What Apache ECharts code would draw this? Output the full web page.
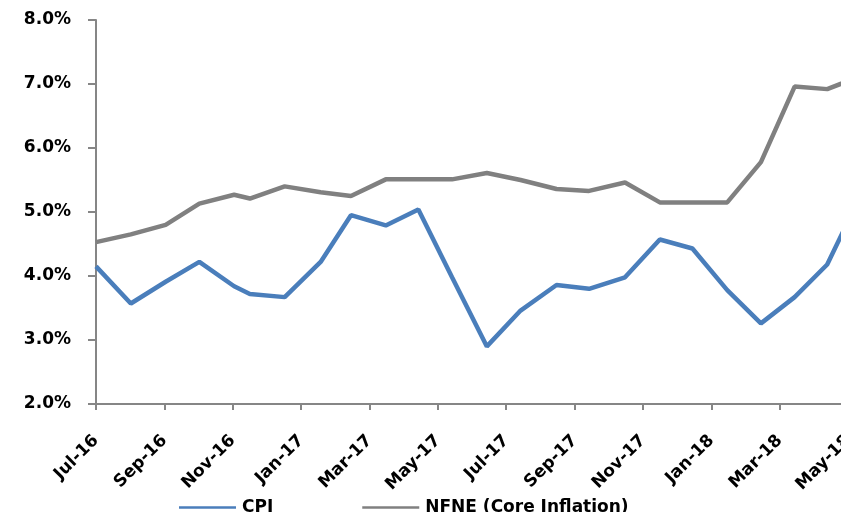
<!DOCTYPE html>
<html>
<head>
<meta charset="utf-8">
<script src="https://cdn.jsdelivr.net/npm/echarts@6/dist/echarts.min.js"></script>
<style>
  html, body { margin: 0; padding: 0; background: #fff; }
  #chart { width: 841px; height: 512px; }
</style>
</head>
<body>
<div id="chart"></div>
<script>
// ---- data ----
const startDate = '2016-07-01';
const pointDates = ['2016-07-01','2016-08-01','2016-09-01','2016-10-01','2016-11-01','2016-11-15',
  '2016-12-16','2017-01-17','2017-02-13','2017-03-16','2017-04-14','2017-05-14','2017-06-14',
  '2017-07-14','2017-08-15','2017-09-13','2017-10-15','2017-11-15','2017-12-14','2018-01-14',
  '2018-02-13','2018-03-15','2018-04-13','2018-05-11'];
const cpi  = [4.15,3.57,3.91,4.22,3.84,3.72,3.67,4.22,4.95,4.79,5.04,3.98,2.90,3.46,3.86,3.80,3.98,4.57,4.43,3.78,3.26,3.67,4.18,5.20];
const nfne = [4.53,4.65,4.80,5.13,5.27,5.21,5.40,5.31,5.25,5.51,5.51,5.51,5.61,5.50,5.36,5.33,5.46,5.15,5.15,5.15,5.78,6.96,6.92,7.11];
const xTickLabels = ['Jul-16','Sep-16','Nov-16','Jan-17','Mar-17','May-17','Jul-17','Sep-17','Nov-17','Jan-18','Mar-18','May-18'];
const yTickLabels = ['2.0%','3.0%','4.0%','5.0%','6.0%','7.0%','8.0%'];
const seriesNames = ['CPI', 'NFNE (Core Inflation)'];

// ---- build ----
const DAY = 86400000;
const t0 = Date.parse(startDate + 'T00:00:00Z');
const dayOffset = d => Math.round((Date.parse(d + 'T00:00:00Z') - t0) / DAY);
const xInterval = 60.875;   // two months in days
const font = 'DejaVu Sans';

const chart = echarts.init(document.getElementById('chart'), null, { renderer: 'canvas' });
chart.setOption({
  animation: false,
  backgroundColor: '#ffffff',
  grid: { left: 96, width: 775, top: 20, bottom: 108, containLabel: false, outerBoundsMode: 'none' },
  legend: {
    left: 179, top: 496, padding: 0,
    icon: 'rect', itemWidth: 57, itemHeight: 2.5, itemGap: 89,
    textStyle: { fontFamily: font, fontWeight: 'bold', fontSize: 17, color: '#000', lineHeight: 17, padding: [6, 0, 0, 1] },
    data: seriesNames
  },
  xAxis: {
    type: 'value', min: 0, max: 690, interval: xInterval,
    axisLine: { lineStyle: { color: '#868686', width: 2 } },
    axisTick: { show: true, length: 6, lineStyle: { color: '#868686', width: 2 } },
    splitLine: { show: false },
    axisLabel: {
      rotate: 45, margin: 34,
      fontFamily: font, fontWeight: 'bold', fontSize: 17, color: '#000',
      showMaxLabel: false,
      formatter: v => {
        const k = Math.round(v / xInterval);
        if (Math.abs(v - k * xInterval) > 0.01) return '';
        return xTickLabels[k] || '';
      }
    }
  },
  yAxis: {
    type: 'value', min: 2, max: 8, interval: 1,
    axisLine: { show: true, lineStyle: { color: '#868686', width: 2 } },
    axisTick: { show: true, length: 8, lineStyle: { color: '#868686', width: 2 } },
    splitLine: { show: false },
    axisLabel: {
      margin: 25, fontFamily: font, fontWeight: 'bold', fontSize: 17, color: '#000',
      formatter: v => yTickLabels[Math.round(v - 2)] || ''
    }
  },
  series: [
    {
      name: seriesNames[0], type: 'line', showSymbol: false, symbol: 'none',
      color: '#4A7EBB',
      lineStyle: { width: 4.5, color: '#4A7EBB' },
      data: pointDates.map((d, i) => [dayOffset(d), cpi[i]])
    },
    {
      name: seriesNames[1], type: 'line', showSymbol: false, symbol: 'none',
      color: '#808080',
      lineStyle: { width: 4.5, color: '#808080' },
      data: pointDates.map((d, i) => [dayOffset(d), nfne[i]])
    }
  ]
});
</script>
</body>
</html>
